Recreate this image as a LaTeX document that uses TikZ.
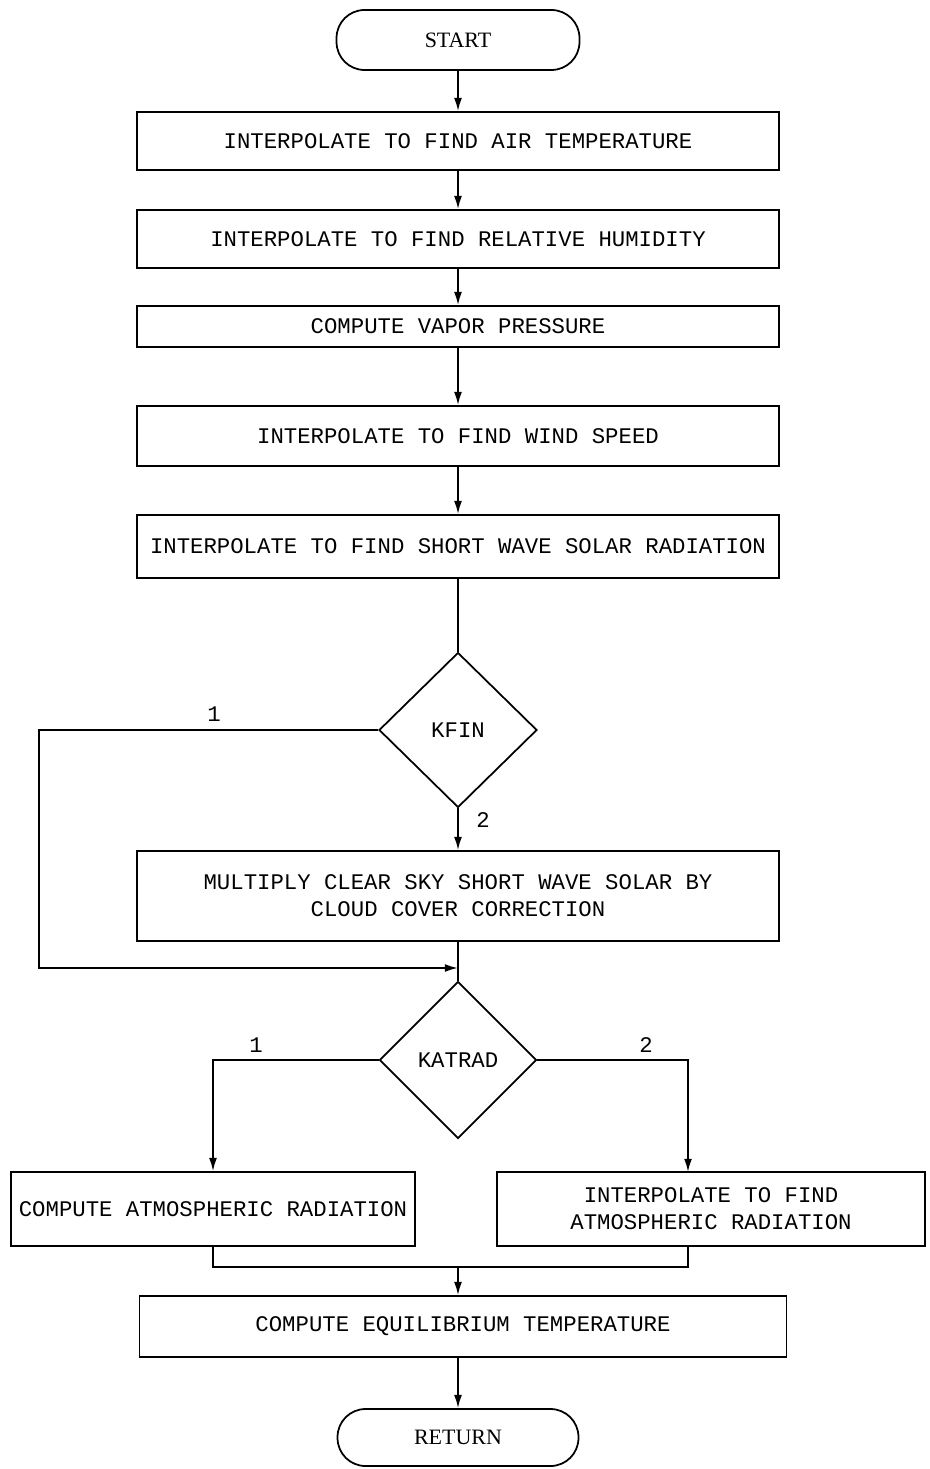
\documentclass[tikz,border=0pt]{standalone}
\usepackage{fontspec}
\setmainfont{Liberation Serif}
\setmonofont{Liberation Mono}
\usetikzlibrary{shapes.geometric}
\usetikzlibrary{arrows.meta}
\pgfdeclarelayer{edgelayer}
\pgfdeclarelayer{nodelayer}
\pgfsetlayers{edgelayer,nodelayer,main}
\tikzstyle{terminal}=[rectangle,rounded corners=0.56cm,fill=white,draw=black,line width=1pt,font=\fontsize{12.5}{14}\selectfont]
\tikzstyle{process}=[rectangle,fill=white,draw=black,line width=1pt,inner sep=0pt,minimum width=12.84cm,align=center,font=\fontsize{12.7}{15.3}\selectfont\ttfamily]
\tikzstyle{decision}=[diamond,fill=white,draw=black,line width=1pt,inner sep=0pt,font=\fontsize{12.7}{15}\selectfont\ttfamily]
\tikzstyle{branch}=[font=\fontsize{12.7}{15}\selectfont\ttfamily]
\tikzstyle{transition}=[-{Latex[length=7.5pt,width=4.5pt]},draw=black,line width=1pt]
\tikzstyle{link}=[draw=black,line width=1pt]

\begin{document}
\begin{tikzpicture}[x=0.02cm,y=-0.02cm]
	\useasboundingbox (0,0) rectangle (929,1469);
	\begin{pgfonlayer}{nodelayer}
		\node [style=terminal, minimum width=4.86cm, minimum height=1.2cm] (0) at (458, 40) {START};
		\node [style=process, minimum height=1.16cm] (1) at (458, 141) {INTERPOLATE TO FIND AIR TEMPERATURE};
		\node [style=process, minimum height=1.16cm] (2) at (458, 239) {INTERPOLATE TO FIND RELATIVE HUMIDITY};
		\node [style=process, minimum height=0.82cm] (3) at (458, 326.5) {COMPUTE VAPOR PRESSURE};
		\node [style=process, minimum height=1.2cm] (4) at (458, 436) {INTERPOLATE TO FIND WIND SPEED};
		\node [style=process, minimum height=1.26cm] (5) at (458, 546.5) {INTERPOLATE TO FIND SHORT WAVE SOLAR RADIATION};
		\node [style=decision, minimum width=3.16cm, minimum height=3.1cm] (6) at (458, 730) {KFIN};
		\node [style=process, minimum height=1.8cm] (7) at (458, 896) {MULTIPLY CLEAR SKY SHORT WAVE SOLAR BY\\CLOUD COVER CORRECTION};
		\node [style=decision, minimum width=3.14cm, minimum height=3.14cm] (8) at (458, 1060) {KATRAD};
		\node [style=process, minimum width=8.08cm, minimum height=1.48cm] (9) at (213, 1209) {COMPUTE ATMOSPHERIC RADIATION};
		\node [style=process, minimum width=8.56cm, minimum height=1.48cm] (10) at (711, 1209) {INTERPOLATE TO FIND\\ATMOSPHERIC RADIATION};
		\node [style=process, minimum width=12.94cm, minimum height=1.22cm] (11) at (463, 1326.5) {COMPUTE EQUILIBRIUM TEMPERATURE};
		\node [style=terminal, minimum width=4.82cm, minimum height=1.14cm] (12) at (458, 1437.5) {RETURN};
		\node [style=branch] (b1) at (214, 714) {1};
		\node [style=branch] (b2) at (483, 820) {2};
		\node [style=branch] (b3) at (256, 1045) {1};
		\node [style=branch] (b4) at (646, 1045) {2};
	\end{pgfonlayer}
	\coordinate (13) at (39, 968);
	\coordinate (14) at (458, 968);
	\coordinate (15) at (688, 1172);
	\coordinate (16) at (458, 1267);
	\coordinate (17) at (688, 1246);
	\begin{pgfonlayer}{edgelayer}
		\draw [style=transition] (0) -- (1);
		\draw [style=transition] (1) -- (2);
		\draw [style=transition] (2) -- (3);
		\draw [style=transition] (3) -- (4);
		\draw [style=transition] (4) -- (5);
		\draw [style=link] (5) -- (6);
		\draw [style=transition] (6) -- (7);
		\draw [style=link] (7) -- (8);
		\draw [style=transition] (6.west) -| (13) -- (14);
		\draw [style=transition] (8.west) -| (9.north);
		\draw [style=transition] (8.east) -| (15);
		\draw [style=link] (9.south) |- (16) -| (17);
		\draw [style=transition] (16) -- (11.north -| 16);
		\draw [style=transition] (11.south -| 16) -- (12);
	\end{pgfonlayer}
\end{tikzpicture}
\end{document}
